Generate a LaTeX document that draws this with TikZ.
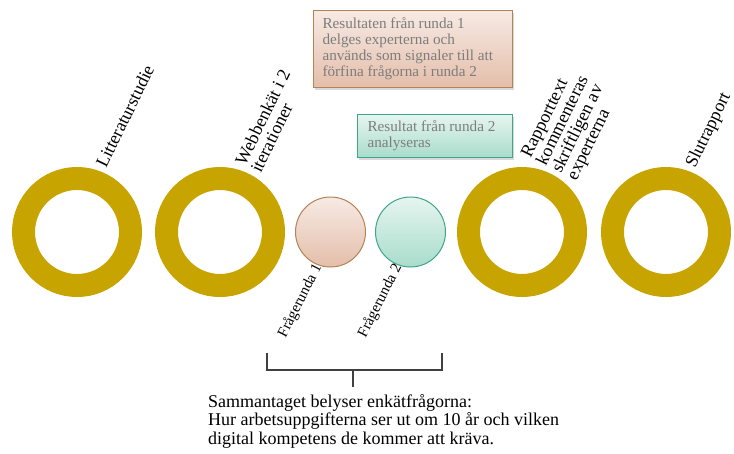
\documentclass[tikz,border=0pt]{standalone}
\usepackage{fontspec}
\setmainfont{Liberation Serif}
\usetikzlibrary{positioning,shadows}

\definecolor{ringgold}{RGB}{200,164,0}
\definecolor{peachtop}{RGB}{247,234,228}
\definecolor{peachbot}{RGB}{228,190,170}
\definecolor{peachline}{RGB}{180,130,85}
\definecolor{minttop}{RGB}{230,245,240}
\definecolor{mintbot}{RGB}{168,220,203}
\definecolor{mintline}{RGB}{62,165,138}
\definecolor{notegray}{RGB}{125,125,125}
\definecolor{bracketgray}{RGB}{64,64,64}

\begin{document}
\begin{tikzpicture}
    [x=1pt,y=1pt,
     ring/.style={circle,draw=ringgold,line width=23pt,minimum size=107pt,inner sep=0pt},
     peachround/.style={circle,draw=peachline,line width=1pt,top color=peachtop,bottom color=peachbot,minimum size=70pt,inner sep=0pt},
     mintround/.style={circle,draw=mintline,line width=1pt,top color=minttop,bottom color=mintbot,minimum size=70pt,inner sep=0pt},
     tag/.style={rotate=64,align=left,inner sep=0pt,font=\fontsize{18}{17}\selectfont},
     roundtag/.style={rotate=63,anchor=east,inner sep=0pt,font=\fontsize{15}{15}\selectfont},
     note/.style={rectangle,line width=1pt,align=flush left,text=notegray,inner xsep=9pt,inner ysep=0pt,
                  font=\fontsize{15.2}{16}\selectfont,
                  drop shadow={opacity=0.3,shadow xshift=1.5pt,shadow yshift=-2pt}}]

    \useasboundingbox (0,0) rectangle (734,-453);

    \node[ring] (lit) at (77,-232) {};
    \node[ring] (web) [right=13pt of lit] {};
    \node[peachround] (fr1) [right=10pt of web] {};
    \node[mintround] (fr2) [right=9pt of fr1] {};
    \node[ring] (rap) [right=11pt of fr2] {};
    \node[ring] (slut) [right=14pt of rap] {};

    \node[tag,anchor=base west] (litlbl) at (106,-169) {Litteraturstudie};
    \node[tag,anchor=south west] (weblbl) at (261,-174) {Webbenkät i 2\\iterationer};
    \node[tag,anchor=south west] (raplbl) at (580,-183) {Rapporttext\\kommenteras\\skriftligen av\\experterna};
    \node[tag,anchor=base west] (slutlbl) at (695,-169) {Slutrapport};

    \node[roundtag] (fr1lbl) at (fr1.250) {Frågerunda 1};
    \node[roundtag] (fr2lbl) at (fr2.250) {Frågerunda 2};

    \node[note,draw=peachline,top color=peachtop,bottom color=peachbot,
          text width=181pt,minimum height=77pt,anchor=north west] (res1) at (313,-10)
      {Resultaten från runda 1\\delges experterna och\\används som signaler till att\\förfina frågorna i runda 2};
    \node[note,draw=mintline,top color=minttop,bottom color=mintbot,
          text width=135pt,inner xsep=10pt,minimum height=43pt] (res2) [below=26pt of res1.south east,anchor=north east]
      {Resultat från runda 2\\analyseras};

    % klammer under frågerundorna
    \coordinate (bl) at (267,-353);
    \coordinate (br) at (442,-353);
    \coordinate (bm) at (353,-370);
    \coordinate (stem) at (353,-387);
    \draw[bracketgray,line width=1.2pt] (bl) |- (bm) -| (br);
    \draw[bracketgray,line width=1.2pt] (bm) -- (stem);

    \node[anchor=north west,align=left,inner sep=0pt,font=\fontsize{18}{18.5}\selectfont] (sum) at (208,-394)
      {Sammantaget belyser enkätfrågorna:\\Hur arbetsuppgifterna ser ut om 10 år och vilken\\digital kompetens de kommer att kräva.};
\end{tikzpicture}
\end{document}
